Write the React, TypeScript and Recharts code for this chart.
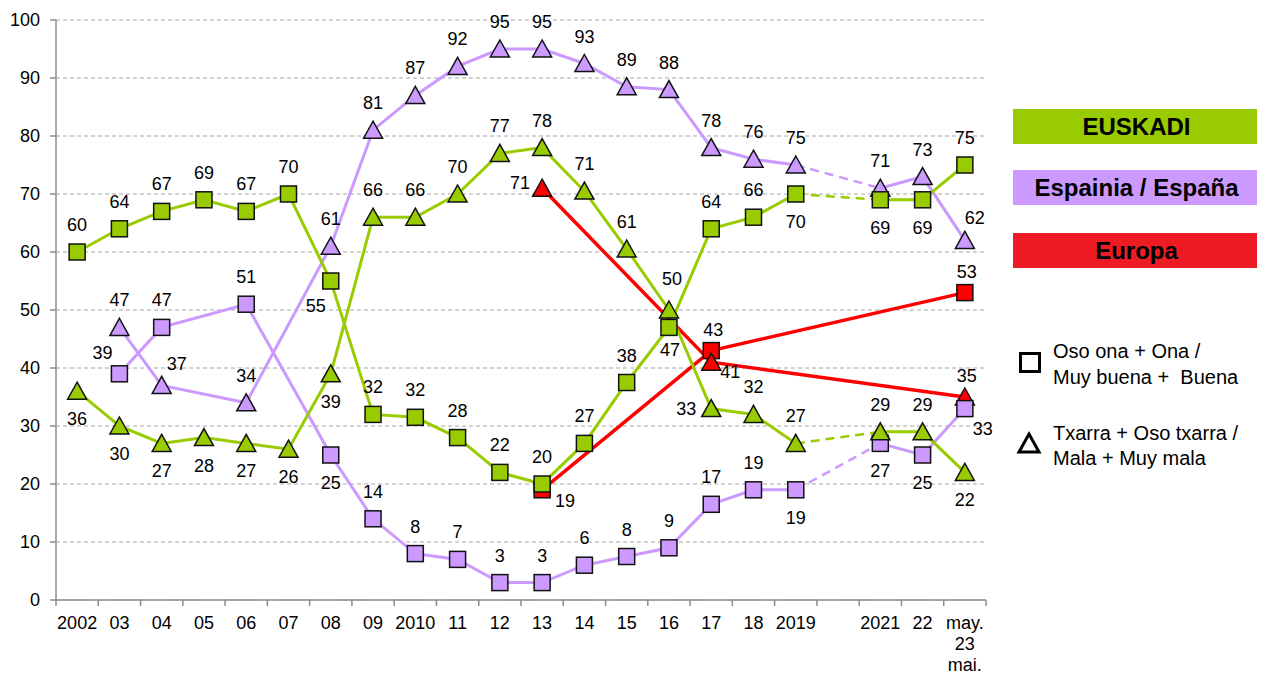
import { CartesianGrid, LabelList, Line, LineChart, XAxis, YAxis } from 'recharts'

// survey years; 2020 had no wave, kept as an empty slot so the axis spacing matches
const categories = ['2002', '03', '04', '05', '06', '07', '08', '09', '2010', '11', '12', '13', '14', '15', '16', '17', '18', '2019', '2020', '2021', '22', 'may. 23 mai.']

// Oso ona + Ona / Muy buena + Buena
const euskadiGood = [60, 64, 67, 69, 67, 70, 55, 32, 31.5, 28, 22, 20, 27, 37.5, 47, 64, 66, 70, null, 69, 69, 75]
const spainGood = [null, 39, 47, null, 51, null, 25, 14, 8, 7, 3, 3, 6, 7.5, 9, 16.5, 19, 19, null, 27, 25, 33]
const europeGood = [null, null, null, null, null, null, null, null, null, null, null, 19, null, null, null, 43, null, null, null, null, null, 53]

// Txarra + Oso txarra / Mala + Muy mala
const euskadiBad = [36, 30, 27, 28, 27, 26, 39, 66, 66, 70, 77, 78, 70.5, 60.5, 50, 33, 32, 27, null, 29, 29, 22]
const spainBad = [null, 47, 37, null, 34, null, 61, 81, 87, 92, 95, 95, 92.5, 88.5, 88, 78, 76, 75, null, 71, 73, 62]
const europeBad = [null, null, null, null, null, null, null, null, null, null, null, 71, null, null, null, 41, null, null, null, null, null, 35]

const yTicks = [0, 10, 20, 30, 40, 50, 60, 70, 80, 90, 100]

// where each value label sits relative to its marker
const euskadiGoodPos = ['t', 't', 't', 't', 't', 't', 'bl', 't', 't', 't', 't', 't', 't', 't', 'b2', 't', 't', 'b', '', 'b', 'b', 't']
const euskadiBadPos = ['b', 'b', 'b', 'b', 'b', 'b', 'b', 't', 't', 't', 't', 't', 't', 't', 't2', 'l', 't', 't', '', 't', 't', 'b']
const spainGoodPos = ['', 'tl', 't', '', 't', '', 'b', 't', 't', 't', 't', 't', 't', 't', 't', 't', 't', 'b', '', 'b', 'b', 'br']
const spainBadPos = ['', 't', 'tr', '', 't', '', 't', 't', 't', 't', 't', 't', 't', 't', 't', 't', 't', 't', '', 't', 't', 'tr2']
const europeGoodPos = ['', '', '', '', '', '', '', '', '', '', '', 'r2', '', '', '', 't3', '', '', '', '', '', 't3']
const europeBadPos = ['', '', '', '', '', '', '', '', '', '', '', 'l2', '', '', '', 'r', '', '', '', '', '', 't3']

const OFFSETS: Record<string, [number, number]> = {
  t: [0, -27],
  t2: [3, -31],
  t3: [2, -21],
  tr2: [10, -22],
  b: [0, 28],
  b2: [1, 23],
  bl: [-15, 25],
  br: [18, 20],
  tl: [-17, -21],
  tr: [15, -21],
  l: [-25, 0],
  l2: [-22, -5],
  r: [19, 10],
  r2: [23, 11],
}

const GREEN = '#99cc00'
const PURPLE = '#cc99ff'
const RED = '#ff0000'
const AXIS = '#8c8c8c'

const CHART_W = 1020
const CHART_H = 666
const MARGIN = { top: 12, right: 42, bottom: 0, left: 0 }
const Y_AXIS_W = 48
const PLOT_W = CHART_W - MARGIN.left - MARGIN.right - Y_AXIS_W

const GAP = categories.indexOf('2020')

type Part = 'a' | 'b' | 'd'
const part = (vals: (number | null)[], p: Part) =>
  vals.map((v, i) => {
    if (p === 'a') return i < GAP ? v : null
    if (p === 'b') return i > GAP ? v : null
    return i === GAP - 1 || i === GAP + 1 ? v : null
  })

const seriesDefs = [
  { key: 'euG', values: europeGood, pos: europeGoodPos, color: RED, shape: 'square', split: false },
  { key: 'euB', values: europeBad, pos: europeBadPos, color: RED, shape: 'triangle', split: false },
  { key: 'spB', values: spainBad, pos: spainBadPos, color: PURPLE, shape: 'triangle', split: true },
  { key: 'spG', values: spainGood, pos: spainGoodPos, color: PURPLE, shape: 'square', split: true },
  { key: 'ekG', values: euskadiGood, pos: euskadiGoodPos, color: GREEN, shape: 'square', split: true },
  { key: 'ekB', values: euskadiBad, pos: euskadiBadPos, color: GREEN, shape: 'triangle', split: true },
]

const rows = categories.map((cat, i) => {
  const row: Record<string, string | number | null> = { cat }
  for (const s of seriesDefs) {
    if (s.split) {
      row[s.key + 'a'] = part(s.values, 'a')[i]
      row[s.key + 'b'] = part(s.values, 'b')[i]
      row[s.key + 'd'] = part(s.values, 'd')[i]
    } else {
      row[s.key] = s.values[i]
    }
  }
  return row
})

const makeDot = (shape: string, fill: string) => (props: any) => {
  const { cx, cy, index, value } = props
  const k = `dot-${index}`
  if (value == null || cx == null || cy == null) return <g key={k} />
  if (shape === 'square') {
    return <rect key={k} x={cx - 8} y={cy - 8} width={16} height={16} fill={fill} stroke="#111" strokeWidth={1.5} />
  }
  return (
    <path key={k} d={`M${cx},${cy - 9}L${cx + 9.5},${cy + 8}L${cx - 9.5},${cy + 8}Z`} fill={fill} stroke="#111" strokeWidth={1.5} />
  )
}

const makeLabel = (pos: string[]) => (props: any) => {
  const { x, y, value, index } = props
  if (value == null || x == null || y == null) return null
  const code = pos[index]
  if (!code) return null
  const [dx, dy] = OFFSETS[code]
  return (
    <text x={x + dx} y={y + dy} textAnchor="middle" dominantBaseline="central" fontSize={18} fill="#000">
      {Math.round(value)}
    </text>
  )
}

function XTick(props: any) {
  const { x, y, payload, index } = props
  const bw = PLOT_W / categories.length
  const parts = payload.value === '2020' ? [] : String(payload.value).split(' ')
  return (
    <g>
      <line x1={x - bw / 2} x2={x - bw / 2} y1={y} y2={y + 6} stroke={AXIS} strokeWidth={1.5} />
      {index === categories.length - 1 && (
        <line x1={x + bw / 2} x2={x + bw / 2} y1={y} y2={y + 6} stroke={AXIS} strokeWidth={1.5} />
      )}
      <text x={x} y={y + 29} textAnchor="middle" fontSize={18} fill="#000">
        {parts.map((t, i) => (
          <tspan key={i} x={x} dy={i === 0 ? 0 : 21}>
            {t}
          </tspan>
        ))}
      </text>
    </g>
  )
}

function renderSeries(s: (typeof seriesDefs)[number]) {
  const dot = makeDot(s.shape, s.color)
  const width = s.color === RED ? 3.5 : 3
  if (!s.split) {
    return [
      <Line key={s.key} dataKey={s.key} stroke={s.color} strokeWidth={width} connectNulls dot={dot} activeDot={false} isAnimationActive={false}>
        <LabelList dataKey={s.key} content={makeLabel(s.pos)} />
      </Line>,
    ]
  }
  return [
    <Line key={s.key + 'd'} dataKey={s.key + 'd'} stroke={s.color} strokeWidth={2.5} strokeDasharray="9 6" connectNulls dot={false} activeDot={false} isAnimationActive={false} />,
    <Line key={s.key + 'a'} dataKey={s.key + 'a'} stroke={s.color} strokeWidth={width} connectNulls dot={dot} activeDot={false} isAnimationActive={false}>
      <LabelList dataKey={s.key + 'a'} content={makeLabel(s.pos)} />
    </Line>,
    <Line key={s.key + 'b'} dataKey={s.key + 'b'} stroke={s.color} strokeWidth={width} dot={dot} activeDot={false} isAnimationActive={false}>
      <LabelList dataKey={s.key + 'b'} content={makeLabel(s.pos)} />
    </Line>,
  ]
}

const boxStyle = (top: number, bg: string) => ({
  position: 'absolute' as const,
  left: 1005,
  top,
  width: 247,
  height: 35,
  background: bg,
  display: 'flex',
  alignItems: 'center',
  justifyContent: 'center',
  fontWeight: 700,
  fontSize: 24,
  color: '#000',
})

export default function App() {
  return (
    <div style={{ position: 'relative', width: 1257, height: CHART_H, fontFamily: '"Liberation Sans", Arial, sans-serif' }}>
      <LineChart width={CHART_W} height={CHART_H} data={rows} margin={MARGIN}>
        <CartesianGrid vertical={false} stroke="#a6a6a6" strokeDasharray="4 3" />
        <XAxis
          dataKey="cat"
          scale="band"
          interval={0}
          tickLine={false}
          tickSize={0}
          tickMargin={0}
          height={CHART_H - MARGIN.top - 580}
          stroke={AXIS}
          strokeWidth={1.5}
          tick={<XTick />}
        />
        <YAxis
          width={Y_AXIS_W}
          domain={[0, 100]}
          ticks={yTicks}
          interval={0}
          tickSize={6}
          tickMargin={10}
          stroke={AXIS}
          strokeWidth={1.5}
          tick={{ fontSize: 18, fill: '#000' }}
        />
        {seriesDefs.flatMap(renderSeries)}
      </LineChart>

      <div style={boxStyle(101, GREEN)}>EUSKADI</div>
      <div style={boxStyle(162, PURPLE)}>Espainia / España</div>
      <div style={boxStyle(225, '#ed1c24')}>Europa</div>

      <svg style={{ position: 'absolute', left: 0, top: 0, pointerEvents: 'none' }} width={1257} height={500}>
        <rect x={1012.5} y={345.5} width={19} height={18} fill="none" stroke="#000" strokeWidth={3} />
        <text x={1045} y={350} fontSize={20} fill="#000">Oso ona + Ona /</text>
        <text x={1045} y={376} fontSize={20} fill="#000" style={{ whiteSpace: 'pre' }}>Muy buena +  Buena</text>
        <path d="M1021,426L1031,444L1011,444Z" fill="none" stroke="#000" strokeWidth={3} strokeLinejoin="miter" />
        <text x={1045} y={432} fontSize={20} fill="#000">Txarra + Oso txarra /</text>
        <text x={1045} y={457} fontSize={20} fill="#000">Mala + Muy mala</text>
      </svg>
    </div>
  )
}
